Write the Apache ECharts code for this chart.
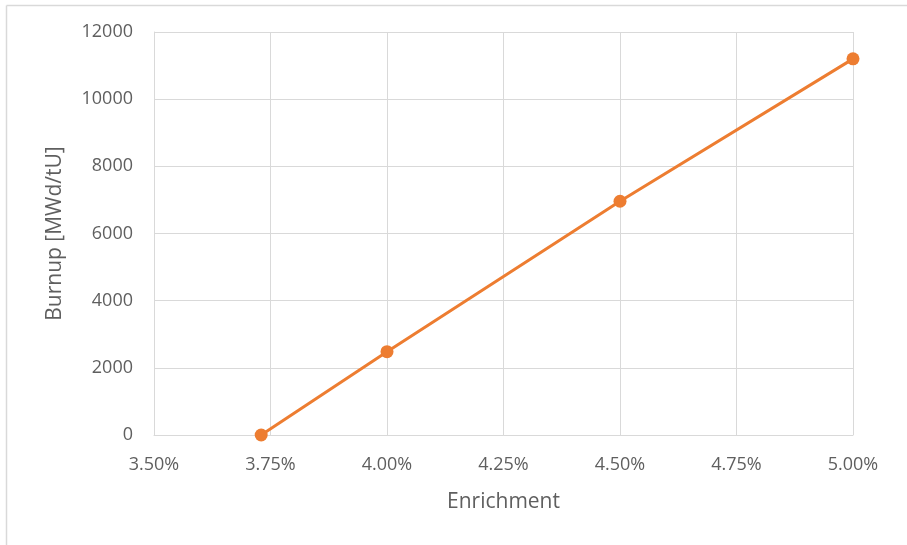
<!DOCTYPE html>
<html>
<head>
<meta charset="utf-8">
<script src="https://cdn.jsdelivr.net/npm/echarts@6/dist/echarts.min.js"></script>
<style>
  html, body { margin: 0; padding: 0; background: #fff; }
  #chart { width: 907px; height: 545px; }
</style>
</head>
<body>
<div id="chart"></div>
<script>
// Enrichment (%) vs. discharge burnup
const enrichment = [3.73, 4.00, 4.50, 5.00];
const burnup = [0, 2480, 6960, 11200];
const xTicks = { min: 3.5, max: 5.0, step: 0.25 };
const yTicks = { min: 0, max: 12000, step: 2000 };

const textColor = '#5f5f5f';
const fontFamily = '"Open Sans", "Noto Sans", sans-serif';

const chart = echarts.init(document.getElementById('chart'));
chart.setOption({
  backgroundColor: '#fff',
  animation: false,
  graphic: [
    { type: 'line', shape: { x1: 6.5, y1: 5.5, x2: 6.5, y2: 545 }, style: { stroke: '#d9d9d9', lineWidth: 1.5 } },
    { type: 'line', shape: { x1: 6.5, y1: 5.5, x2: 907, y2: 5.5 }, style: { stroke: '#d9d9d9', lineWidth: 1.5 } }
  ],
  grid: { left: 154, right: 54, top: 32, bottom: 110 },
  xAxis: {
    type: 'value',
    min: xTicks.min, max: xTicks.max, interval: xTicks.step,
    name: 'Enrichment', nameLocation: 'middle', nameGap: 57,
    nameTextStyle: { color: textColor, fontSize: 21, fontFamily },
    axisLine: { show: true, lineStyle: { color: '#d9d9d9' } },
    axisTick: { show: false },
    axisLabel: { color: textColor, fontSize: 18, fontFamily, margin: 21,
      formatter: v => v.toFixed(2) + '%' },
    splitLine: { show: true, lineStyle: { color: '#d9d9d9' } }
  },
  yAxis: {
    type: 'value',
    min: yTicks.min, max: yTicks.max, interval: yTicks.step,
    name: 'Burnup [MWd/tU]', nameLocation: 'middle', nameGap: 88,
    nameTextStyle: { color: textColor, fontSize: 21, fontFamily },
    axisLine: { show: true, lineStyle: { color: '#d9d9d9' } },
    axisTick: { show: false },
    axisLabel: { color: textColor, fontSize: 18, fontFamily, margin: 21,
      formatter: v => String(v) },
    splitLine: { show: true, lineStyle: { color: '#d9d9d9' } }
  },
  series: [{
    type: 'line',
    data: enrichment.map((e, i) => [e, burnup[i]]),
    symbol: 'circle', symbolSize: 13,
    lineStyle: { color: '#ED7D31', width: 3 },
    itemStyle: { color: '#ED7D31' }
  }]
});
</script>
</body>
</html>
